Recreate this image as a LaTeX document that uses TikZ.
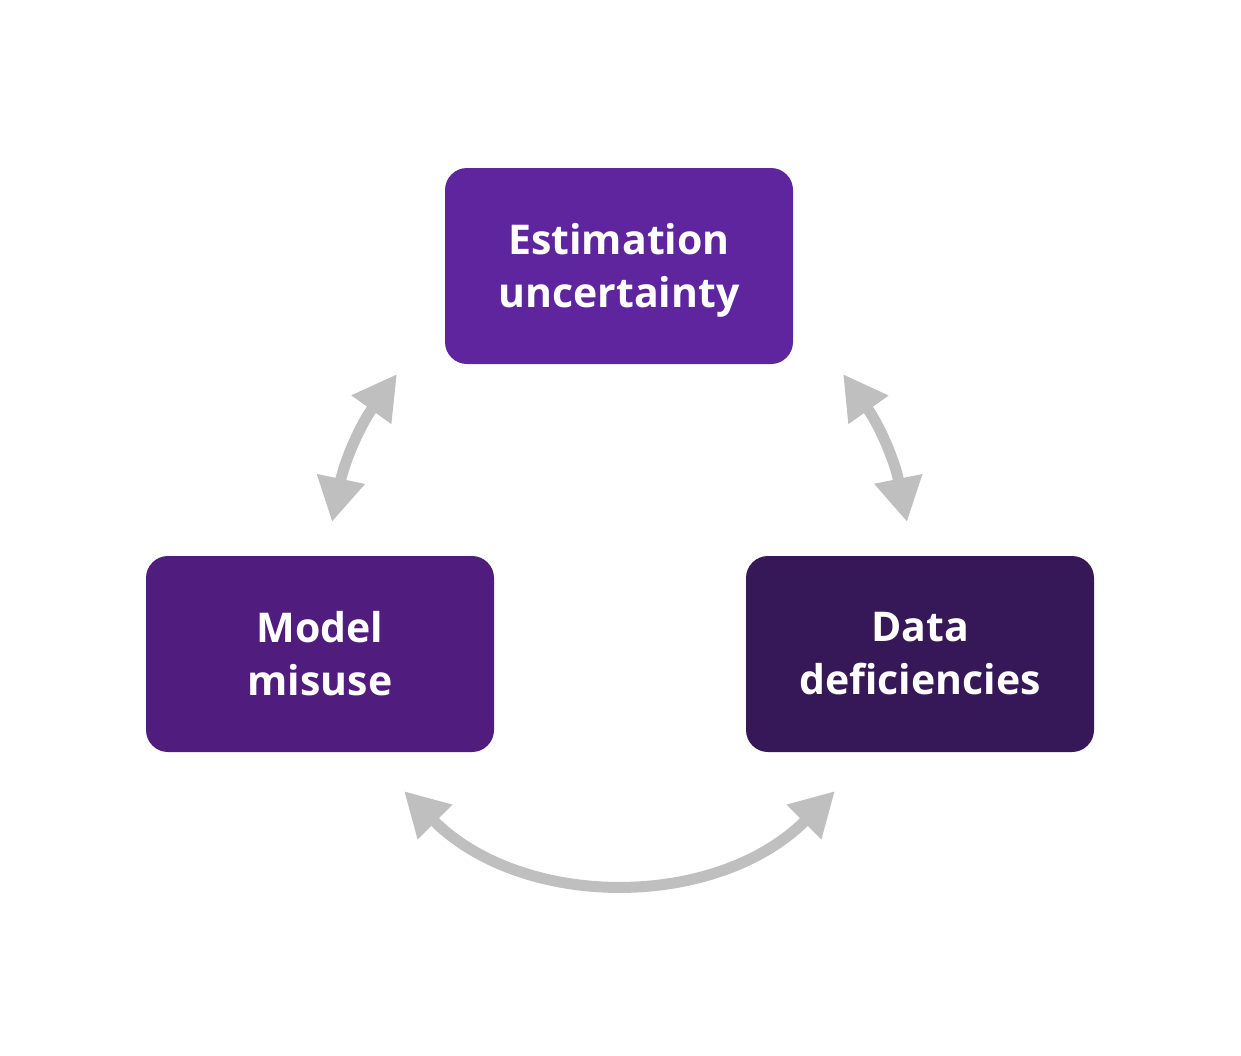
\documentclass[tikz,border=0pt]{standalone}
\usepackage{fontspec}
\setmainfont{Open Sans}
\usetikzlibrary{arrows.meta}
\definecolor{boxA}{RGB}{95,37,159}
\definecolor{boxB}{RGB}{80,29,127}
\definecolor{boxC}{RGB}{54,23,88}
\definecolor{arrowgray}{RGB}{191,191,191}
\tikzset{
  box/.style={rounded corners=22pt, minimum width=348pt, minimum height=196pt, inner sep=0pt},
  boxtext/.style={text=white, align=center, inner sep=0pt, font=\bfseries\fontsize{41}{53}\selectfont},
  link/.style={draw=arrowgray, line width=11pt, {Triangle[length=44pt,width=46pt]}-{Triangle[length=44pt,width=46pt]}}
}
\begin{document}
\begin{tikzpicture}[x=1pt,y=-1pt]
\useasboundingbox (0,0) rectangle (1241,1055);
\node[box, fill=boxA, label={[boxtext, yshift=-4pt]center:{Estimation\\uncertainty}}] (est) at (619,266) {};
\node[box, fill=boxB, label={[boxtext]center:{Model\\misuse}}] (mod) at (320,654) {};
\node[box, fill=boxC, label={[boxtext]center:{Data\\deficiencies}}] (dat) at (920,654) {};
\coordinate (l1) at (332,522);
\coordinate (l2) at (397,374);
\coordinate (r1) at (843,374);
\coordinate (r2) at (907,522);
\coordinate (b1) at (404,791);
\coordinate (b2) at (835,791);
\draw[link] (l1) to[bend left=12] (l2);
\draw[link] (r1) to[bend left=12] (r2);
\draw[link] (b1) to[bend right=45] (b2);
\end{tikzpicture}
\end{document}
